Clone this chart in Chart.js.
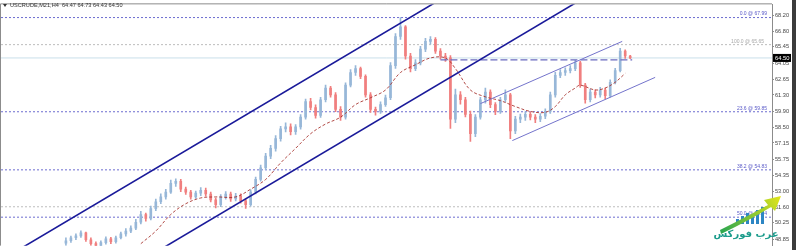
<!DOCTYPE html>
<html>
<head>
<meta charset="utf-8">
<script src="https://cdn.jsdelivr.net/npm/chart.js@4.4.0/dist/chart.umd.min.js"></script>
<style>
  html, body { margin: 0; padding: 0; background: #fff; }
  canvas { display: block; }
</style>
</head>
<body>
<canvas id="chart" width="796" height="250"></canvas>
<script>
// candles, index 0 = first visible H4 bar
const symbolTitle = 'USCRUDE,M21,H4  64.47 64.73 64.43 64.50';
const firstOpen = 48.50;
const closes = [48.70,48.96,49.12,49.38,48.79,48.45,48.28,48.54,48.87,48.62,
  48.96,49.29,49.54,49.80,50.30,50.97,50.64,51.48,52.07,52.49,
  52.91,53.66,53.83,53.16,52.91,52.49,52.82,53.07,52.74,52.23,
  51.81,52.49,52.74,52.32,52.57,52.15,51.81,52.91,54.00,55.01,
  56.02,56.69,57.53,58.37,58.54,58.12,58.54,59.38,60.72,60.22,
  59.54,60.89,61.90,61.31,60.05,59.38,62.15,63.24,63.58,62.91,
  61.31,60.05,59.88,60.47,61.06,63.83,66.35,67.19,64.67,63.58,
  64.08,65.26,65.93,66.10,65.09,64.67,64.50,59.21,61.31,60.89,
  59.63,57.95,59.38,60.89,61.56,60.47,59.88,60.89,61.31,58.20,
  59.21,59.38,59.63,59.38,59.21,59.46,59.88,61.31,62.99,63.24,
  63.41,63.58,64.08,62.15,60.89,61.56,61.31,61.73,61.23,62.40,
  63.41,65.09,64.67,64.50];
const highs = [48.95,49.10,49.30,49.55,49.45,48.95,48.60,48.70,49.05,49.00,
  49.10,49.45,49.75,50.00,50.55,51.25,51.10,51.70,52.30,52.75,
  53.15,53.95,54.05,54.00,53.35,53.05,53.00,53.30,53.25,52.90,
  52.40,52.70,52.95,52.90,52.80,52.75,52.30,53.10,54.20,55.25,
  56.25,56.95,57.80,58.60,58.90,58.80,58.75,59.60,60.95,61.00,
  60.45,61.10,62.15,62.05,61.50,60.30,62.35,63.50,63.85,63.70,
  63.05,61.50,60.25,60.70,61.30,64.10,66.60,67.99,67.30,64.90,
  64.35,65.50,66.20,66.35,66.25,65.30,64.90,64.70,61.80,61.60,
  61.10,59.90,59.60,61.10,61.90,61.75,60.65,61.10,61.75,61.45,
  59.45,59.65,59.85,59.85,59.60,59.70,60.10,61.55,63.25,63.50,
  63.65,63.85,64.30,64.20,62.30,61.80,61.75,61.95,61.90,62.60,
  63.60,65.34,65.20,64.73];
const lows = [48.30,48.55,48.80,49.00,48.65,48.30,48.10,48.15,48.40,48.45,
  48.50,48.85,49.10,49.40,49.65,50.15,50.40,50.50,51.30,51.90,
  52.30,52.80,53.40,52.95,52.70,52.30,52.35,52.60,52.55,52.05,
  51.55,51.65,52.30,52.10,52.15,51.95,51.50,51.70,52.75,53.85,
  54.85,55.80,56.45,57.30,58.10,57.85,57.90,58.35,59.20,60.00,
  59.30,59.35,60.70,61.10,59.85,59.10,59.20,62.00,63.00,62.70,
  61.10,59.80,59.55,59.70,60.30,60.90,63.60,66.10,64.40,63.30,
  63.40,63.90,65.05,65.70,64.90,64.40,64.20,58.40,58.90,60.50,
  59.40,57.28,57.70,59.20,60.60,60.20,59.60,59.70,60.70,57.53,
  57.95,58.90,59.10,59.15,58.90,59.00,59.25,59.70,61.10,62.80,
  63.00,63.20,63.40,61.95,60.60,60.70,61.05,61.10,60.95,61.10,
  62.25,63.30,64.45,64.43];

// moving average
const maIndex = [15,18,21,24,27,30,34,37,40,43,46,49,52,55,58,61,64,67,70,73,
  76,78,81,84,87,90,93,96,98,100,102,103,106,108,110,112];
const maValues = [48.45,49.54,50.97,51.90,52.40,52.49,52.49,53.16,54.00,55.43,
  56.69,57.95,58.79,59.38,60.47,61.06,61.73,63.24,63.91,64.50,
  64.50,63.58,61.73,61.14,60.81,60.30,59.88,59.80,60.30,61.31,
  61.90,62.15,61.73,61.90,62.40,63.16];

// drawn objects (bar index, price)
const channelUpper = [[-13, 47.02], [76, 69.81]];
const channelLower = [[18, 47.71], [104, 69.75]];
const smallUpper = [[83, 60.55], [111.4, 65.93]];
const smallLower = [[89.4, 57.36], [118, 62.82]];
const resistance = [[75, 64.33], [113.4, 64.33]];
const fibValues = [67.99, 59.85, 54.83, 50.74];
const fibLabels = ['0.0 @ 67.99', '23.6 @ 59.85', '38.2 @ 54.83', '50.0 @ 50.74'];
const greyValues = [65.65, 51.64];
const greyLabels = ['100.0 @ 65.65', ''];
const lastPrice = 64.50;
const priceTicks = [68.20, 66.80, 65.45, 64.05, 62.65, 61.30, 59.90, 58.50, 57.15, 55.75, 54.35, 53.00, 51.60, 50.25, 48.85];

const xMin = -13, xMax = 141.4;
const opens = closes.map((c, i) => i === 0 ? firstOpen : closes[i - 1]);
const candleColor = closes.map((c, i) => c >= opens[i] ? '#97b7d8' : '#f07f7f');

const seg = (pts) => pts.map(p => ({ x: p[0], y: p[1] }));
const hline = (v) => [{ x: xMin, y: v }, { x: xMax, y: v }];

const datasets = [];
fibValues.forEach(v => datasets.push({
  type: 'line', data: hline(v), borderColor: '#6d6dd0', borderWidth: 1,
  borderDash: [2, 2], pointRadius: 0, order: 20
}));
greyValues.forEach(v => datasets.push({
  type: 'line', data: hline(v), borderColor: '#bdbdbd', borderWidth: 1,
  borderDash: [2, 2], pointRadius: 0, order: 20
}));
datasets.push({
  type: 'line', data: hline(lastPrice), borderColor: '#c9dfea', borderWidth: 1,
  pointRadius: 0, order: 19
});
datasets.push({
  type: 'bar', data: lows.map((l, i) => ({ x: i, y: [l, highs[i]] })),
  backgroundColor: candleColor, barThickness: 1, grouped: false, order: 10
});
datasets.push({
  type: 'bar', data: closes.map((c, i) => ({ x: i, y: [opens[i], c] })),
  backgroundColor: candleColor, barThickness: 2, grouped: false, order: 9
});
datasets.push({
  type: 'line', data: maIndex.map((x, i) => ({ x, y: maValues[i] })),
  borderColor: 'rgba(165,45,40,0.85)', borderWidth: 1, borderDash: [3, 2],
  pointRadius: 0, tension: 0.35, order: 5
});
datasets.push({
  type: 'line', data: seg(resistance), borderColor: '#6b6bbf', borderWidth: 1.4,
  borderDash: [7, 3], pointRadius: 0, order: 4
});
[smallUpper, smallLower].forEach(s => datasets.push({
  type: 'line', data: seg(s), borderColor: '#7474cc', borderWidth: 1,
  pointRadius: 0, order: 3
}));
[channelUpper, channelLower].forEach(s => datasets.push({
  type: 'line', data: seg(s), borderColor: '#1a1a9a', borderWidth: 1.6,
  pointRadius: 0, order: 2
}));

const decorations = {
  id: 'decorations',
  beforeDraw(chart) {
    const ctx = chart.ctx;
    ctx.save();
    ctx.fillStyle = '#fff';
    ctx.fillRect(0, 0, chart.width, chart.height);
    ctx.restore();
  },
  afterDraw(chart) {
    const { ctx, chartArea: a } = chart;
    const y = chart.scales.y;
    ctx.save();
    // frame
    ctx.strokeStyle = '#8c8c8c';
    ctx.lineWidth = 1;
    ctx.beginPath();
    ctx.moveTo(a.left - 0.5, a.bottom);
    ctx.lineTo(a.left - 0.5, a.top - 0.5);
    ctx.lineTo(a.right, a.top - 0.5);
    ctx.stroke();
    ctx.fillStyle = '#3c3c3c';
    ctx.fillRect(792, 0, 4, chart.height);

    // title
    ctx.fillStyle = '#333';
    ctx.beginPath();
    ctx.moveTo(3, 4); ctx.lineTo(7, 4); ctx.lineTo(5, 7); ctx.closePath(); ctx.fill();
    ctx.font = '5.6px "Liberation Sans"';
    ctx.textBaseline = 'middle';
    ctx.fillText(symbolTitle, 10, 5.5);

    // level labels
    ctx.font = '5px "Liberation Sans"';
    ctx.textAlign = 'right';
    ctx.textBaseline = 'bottom';
    ctx.fillStyle = '#5a5ac8';
    fibValues.forEach((v, k) => ctx.fillText(fibLabels[k], a.right - 5, y.getPixelForValue(v) - 1));
    ctx.fillStyle = '#a8a8a8';
    greyValues.forEach((v, k) => ctx.fillText(greyLabels[k], a.right - 8, y.getPixelForValue(v) - 1));

    // last price box
    const py = y.getPixelForValue(lastPrice);
    ctx.fillStyle = '#000';
    ctx.fillRect(a.right + 1, py - 4, 18, 8);
    ctx.fillStyle = '#fff';
    ctx.font = '5.8px "Liberation Sans"';
    ctx.textAlign = 'left';
    ctx.textBaseline = 'middle';
    ctx.fillText(lastPrice.toFixed(2), a.right + 3, py + 0.5);

    // logo
    const g = ctx.createLinearGradient(722, 230, 782, 195);
    g.addColorStop(0, '#2fa84f');
    g.addColorStop(1, '#e6e619');
    const barX = [736, 741, 746, 751, 756, 761];
    const barH = [5, 8, 11, 9, 14, 17];
    barX.forEach((bx, k) => {
      ctx.fillStyle = '#2d86c4';
      ctx.fillRect(bx, 224 - barH[k], 3, barH[k]);
    });
    ctx.fillStyle = g;
    ctx.beginPath();
    ctx.moveTo(720, 230);
    ctx.quadraticCurveTo(748, 216, 768, 205);
    ctx.lineTo(764, 200);
    ctx.lineTo(781, 196);
    ctx.lineTo(775, 211);
    ctx.lineTo(771, 207);
    ctx.quadraticCurveTo(750, 220, 721, 234);
    ctx.closePath();
    ctx.fill();
    ctx.fillStyle = '#1c9c8c';
    ctx.font = 'bold 10px "DejaVu Sans"';
    ctx.textAlign = 'center';
    ctx.textBaseline = 'middle';
    ctx.fillText('عرب فوركس', 746, 234);
    ctx.restore();
  }
};

new Chart(document.getElementById('chart'), {
  data: { datasets },
  options: {
    responsive: false,
    animation: false,
    devicePixelRatio: 1,
    layout: { padding: { left: 1, top: 2, right: 0, bottom: 0 } },
    plugins: { legend: { display: false }, tooltip: { enabled: false } },
    scales: {
      x: { type: 'linear', min: xMin, max: xMax, offset: false, display: false },
      y: {
        position: 'right',
        min: 48.28, max: 69.13,
        afterBuildTicks: (axis) => { axis.ticks = priceTicks.map(v => ({ value: v })); },
        afterFit: (axis) => { axis.width = 24; },
        border: { display: true, color: '#8c8c8c' },
        grid: { drawOnChartArea: false, drawTicks: true, tickLength: 2, color: '#8c8c8c' },
        ticks: {
          padding: 1,
          color: '#444',
          font: { family: 'Liberation Sans', size: 5.6 },
          callback: (v) => Number(v).toFixed(2)
        }
      }
    }
  },
  plugins: [decorations]
});
</script>
</body>
</html>
